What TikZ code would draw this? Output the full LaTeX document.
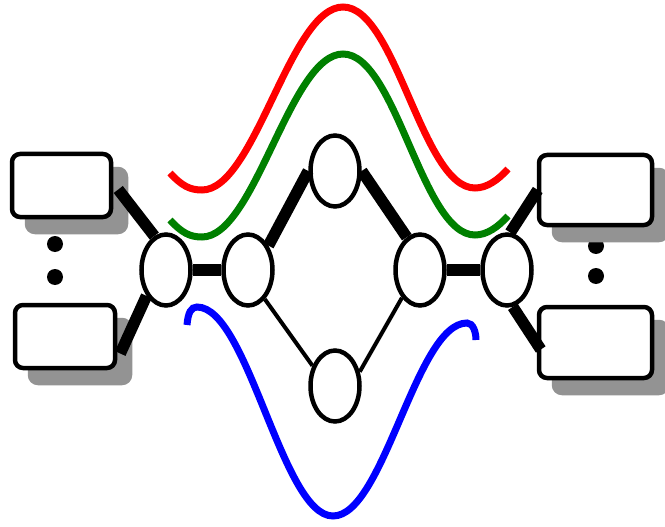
\documentclass[tikz,border=0pt]{standalone}
\usetikzlibrary{shapes.geometric,shadows,calc}
\definecolor{shadowgray}{RGB}{147,147,147}
\definecolor{wred}{RGB}{255,0,0}
\definecolor{wgreen}{RGB}{0,128,0}
\definecolor{wblue}{RGB}{0,0,255}
\begin{document}
\begin{tikzpicture}[x=1pt,y=1pt,
  ell/.style={ellipse,draw,line width=4.5pt,minimum width=49pt,minimum height=71pt,inner sep=0pt},
  boxnode/.style={rectangle,draw,line width=4.5pt,rounded corners=8pt,fill=white,inner sep=0pt,
    drop shadow={shadow xshift=15pt,shadow yshift=-15pt,fill=shadowgray,draw=shadowgray,line width=4.5pt,opacity=1}},
  thickline/.style={line width=11.5pt},
  thinline/.style={line width=4pt},
  wave/.style={line width=7pt},
  dotmark/.style={fill=black}]
\useasboundingbox (0,0) rectangle (665,-527);
% dots
\fill[dotmark] (55,-244) circle (8);
\fill[dotmark] (55,-277) circle (8);
\fill[dotmark] (596,-246) circle (8);
\fill[dotmark] (596,-276) circle (8);
% boxes
\node[boxnode,minimum width=99pt,minimum height=63pt] (lt) at (61.5,-185.5) {};
\node[boxnode,minimum width=100pt,minimum height=63pt] (lb) at (65,-336.5) {};
\node[boxnode,minimum width=113pt,minimum height=70pt] (rt) at (595.5,-190) {};
\node[boxnode,minimum width=113pt,minimum height=71pt] (rb) at (595.5,-342.5) {};
% ellipses
\node[ell] (L1) at (166,-270) {};
\node[ell] (L2) at (248,-270) {};
\node[ell] (T) at (335,-171) {};
\node[ell] (B) at (335,-386) {};
\node[ell] (R2) at (420,-270) {};
\node[ell] (R1) at (507,-270) {};
% connectors
\draw[thickline] (L1.109) -- ($(lt.east)+(5,-4)$);
\draw[thickline] (L1.233) -- ($(lb.east)+(3,-17)$);
\draw[thickline] (L1.east) -- (L2.west);
\draw[thickline] (L2.50) -- (T.west);
\draw[thickline] (T.east) -- (R2.112);
\draw[thickline] (R2.east) -- (R1.west);
\draw[thickline] (R1.85) -- ($(rt.west)+(1,0)$);
\draw[thickline] (R1.-81) -- ($(rb.west)+(4,-7)$);
\draw[thinline] (L2.-60) -- (B.138);
\draw[thinline] (B.30) -- (R2.237);
% waves
\draw[wave,wred] (170,-173) .. controls (182,-186) and (190,-190) .. (202,-190)
  .. controls (255,-190) and (290,-7) .. (343,-7)
  .. controls (396,-7) and (422,-188) .. (475,-188)
  .. controls (487,-188) and (498,-180) .. (508,-169);
\draw[wave,wgreen] (170,-220) .. controls (182,-233) and (190,-237) .. (202,-237)
  .. controls (255,-237) and (290,-54) .. (343,-54)
  .. controls (396,-54) and (422,-235) .. (475,-235)
  .. controls (487,-235) and (498,-227) .. (508,-216);
\draw[wave,wblue] (187,-325) .. controls (188,-313) and (191,-307) .. (197,-307)
  .. controls (248,-307) and (282,-516) .. (333,-516)
  .. controls (384,-516) and (416,-323) .. (467,-323)
  .. controls (473,-323) and (476,-332) .. (476,-340);
\end{tikzpicture}
\end{document}
